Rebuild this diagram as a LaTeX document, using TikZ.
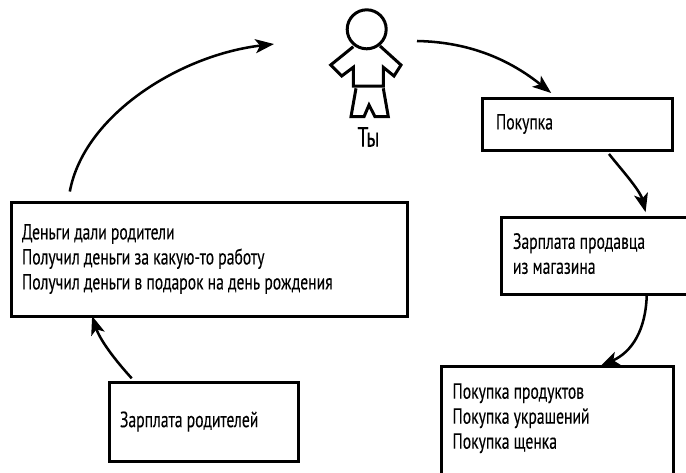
\documentclass[tikz,border=0pt]{standalone}
\usepackage{fontspec}
\setmainfont[FakeStretch=0.71,FakeBold=0.2]{PT Sans}
\usetikzlibrary{positioning}
\usetikzlibrary{arrows.meta}
\newcommand{\lowpad}[1]{\rule[-#1]{0pt}{#1}}
\tikzset{
  textbox/.style={draw,line width=2.25pt,align=left,inner xsep=8.25pt,inner ysep=0pt,outer sep=0pt,font=\fontsize{16.5}{18.75}\selectfont,execute at begin node={\spaceskip=0.19em\relax}},
  flow/.style={line width=1.9pt,-{Stealth[length=14pt,width=10.5pt,inset=3.5pt]}},
  figure/.style={line width=2.25pt,line join=miter}
}

\begin{document}
\begin{tikzpicture}[x=0.75pt,y=0.75pt,yscale=-1,xscale=1]
                  \clip (0,0) rectangle (686,472);

                  %Shape: Figure
                  \draw [figure] (366.7,29.3) circle [radius=19.5];
                  \draw [figure] (353.3,46.7) -- (330.7,65) -- (341.7,76) -- (353.3,67.3) -- (353.3,86) -- (383.3,86) -- (383.3,67.3) -- (394,76) -- (401,65) -- (380,46);
                  \draw [figure] (356,88.3) -- (351,116.7) -- (364,116.7) -- (369,105) -- (375,116.7) -- (388.3,116.7) -- (383.3,88.3);

                  % Text Node
                  \node (you) at (368.5,137) [font=\fontsize{21}{22}\selectfont,inner sep=0.75pt] {Ты};
                  % Text Node
                  \node (gotmoney) at (209,259) [textbox,text width=280.5pt,minimum height=85.5pt] {Деньги дали родители\\Получил деньги за какую-то работу\\Получил деньги в подарок на день рождения};
                  % Text Node
                  \node (parentpay) at (203.5,421.5) [textbox,text width=125.25pt,minimum height=59.25pt] {Зарплата родителей};
                  % Text Node
                  \node (purchase) at (577,124) [textbox,inner xsep=10.5pt,text width=121.5pt,minimum height=39pt] {Покупка};
                  % Text Node
                  \node (sellerpay) at (605.5,255.5) [textbox,inner xsep=9pt,text width=138.75pt,minimum height=57.75pt] {Зарплата продавца\\из магазина\lowpad{3pt}};
                  % Text Node
                  \node (goods) at (557.5,421) [textbox,text width=157.5pt,minimum height=82.5pt] {Покупка продуктов\\Покупка украшений\\Покупка щенка\lowpad{7.5pt}};

                  % Free ends beside the figure
                  \coordinate (figurein) at (274,44);
                  \coordinate (figureout) at (417,41);

                  %Connectors
                  \draw [flow,shorten <=8pt] (gotmoney.158.3) .. controls (84,115) and (180,55) .. (figurein);
                  \draw [flow,shorten >=6pt] (figureout) .. controls (470,42) and (510,60) .. (purchase.127.6);
                  \draw [flow,shorten <=3.75pt,shorten >=3.75pt] (purchase.318) .. controls (620,168) and (640,190) .. (sellerpay.43);
                  \draw [flow] (sellerpay.317.5) .. controls (646,330) and (632,352) .. (goods.52);
                  \draw [flow,shorten <=3.75pt] (parentpay.150) .. controls (115,360) and (100,340) .. (gotmoney.206.4);
\end{tikzpicture}
\end{document}
